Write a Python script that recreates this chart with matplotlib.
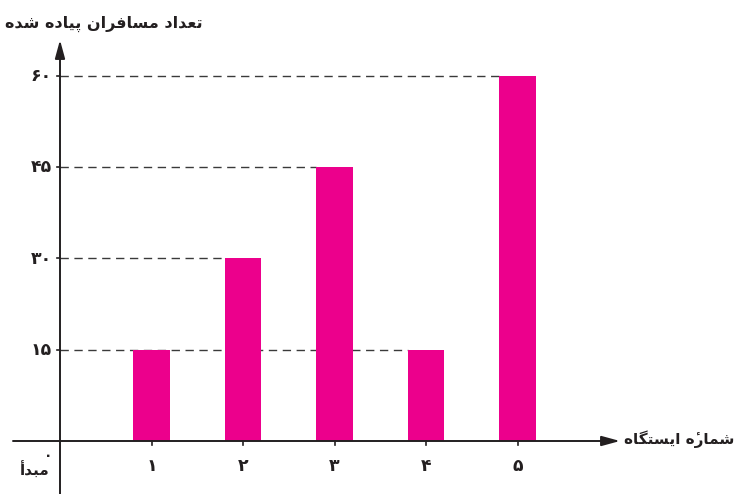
import matplotlib
matplotlib.use("Agg")
import matplotlib.pyplot as plt

# ---- data ----
stations = [1, 2, 3, 4, 5]
passengers = [15, 30, 45, 15, 60]
x_tick_labels = ["\u06F1", "\u06F2", "\u06F3", "\u06F4", "\u06F5"]  # ۱ ۲ ۳ ۴ ۵
y_ticks = [15, 30, 45, 60]
y_tick_labels = ["\u06F1\u06F5", "\u06F3\u06F0", "\u06F4\u06F5", "\u06F6\u06F0"]  # ۱۵ ۳۰ ۴۵ ۶۰

# Persian labels, written in visual (left-to-right) order with Arabic presentation forms
# "تعداد مسافران پیاده شده"
y_title = ("\uFEE9\uFEAA\uFEB7" + " " +
           "\uFEE9\uFEA9\uFE8E\uFBFF\uFB58" + " " +
           "\uFEE5\uFE8D\uFEAE\uFED3\uFE8E\uFEB4\uFEE3" + " " +
           "\uFEA9\uFE8D\uFEAA\uFECC\uFE97")
# "شمارهٔ ایستگاه"
x_title = ("\uFEE9\uFE8E\uFB95\uFE98\uFEB4\uFBFE\uFE8D" + " " +
           "\uFEE9\u0654\uFEAD\uFE8E\uFEE4\uFEB7")
# "مبدأ"
origin_label = "\uFE83\uFEAA\uFE92\uFEE3"
origin_zero = "\u06F0"

bar_color = "#EC008C"
line_color = "#231F20"
bar_width = 0.4

W, H = 735, 494
fig = plt.figure(figsize=(W / 100, H / 100), dpi=100)
ax = fig.add_axes([0, 0, 1, 1])
ax.set_axis_off()

# pixel mapping: x axis at px 60, unit = 91.5 px ; y zero at px 441, 15 units = 91.25 px
ux = 91.5
uy = 91.25 / 15
ax.set_xlim(-60 / ux, (W - 60) / ux)
ax.set_ylim((441 - H) / uy, 441 / uy)

ax.bar(stations, passengers, width=bar_width, color=bar_color, zorder=2)

# dashed guide lines from the axis to the left edge of the farthest bar reaching each level
for yt in y_ticks:
    lefts = [s - bar_width / 2 for s, p in zip(stations, passengers) if p == yt]
    if lefts:
        ax.plot([0, max(lefts)], [yt, yt], color="#3a3a3a", lw=1.0,
                dashes=(6, 4), zorder=1)

# axes with arrows
ylo = (441 - H) / uy
ax.annotate("", xy=(0, (441 - 40) / uy), xytext=(0, ylo),
            arrowprops=dict(arrowstyle="-|>,head_length=1.1,head_width=0.3",
                            color=line_color, lw=1.4, shrinkA=0, shrinkB=0), zorder=3)
ax.annotate("", xy=((620 - 60) / ux, 0), xytext=((13 - 60) / ux, 0),
            arrowprops=dict(arrowstyle="-|>,head_length=1.1,head_width=0.3",
                            color=line_color, lw=1.4, shrinkA=0, shrinkB=0), zorder=3)

font = ["DejaVu Sans"]
# y tick labels and tick marks
for yt, lab in zip(y_ticks, y_tick_labels):
    ax.text(-8 / ux, yt, lab, ha="right", va="center", fontsize=12.5,
            fontweight="bold", family=font, color=line_color)
    ax.plot([-3 / ux, 0], [yt, yt], color=line_color, lw=1.2)

# x tick labels and tick marks
for s, lab in zip(stations, x_tick_labels):
    ax.text(s, -25 / uy, lab, ha="center", va="center", fontsize=12.5,
            fontweight="bold", family=font, color=line_color)
    ax.plot([s, s], [0, -4 / uy], color=line_color, lw=1.2)

# origin
ax.text(-12 / ux, -15 / uy, origin_zero, ha="center", va="center", fontsize=10,
        fontweight="bold", family=font, color=line_color)
ax.text(-25 / ux, -29 / uy, origin_label, ha="center", va="center", fontsize=11,
        fontweight="bold", family=font, color=line_color)

# axis titles
ax.text(-55 / ux, (441 - 24) / uy, y_title, ha="left", va="center", fontsize=11.5,
        fontweight="bold", family=font, color=line_color)
ax.text((624 - 60) / ux, (441 - 439) / uy, x_title, ha="left", va="center",
        fontsize=11, fontweight="bold", family=font, color=line_color)

fig.savefig("out.png", dpi=100)
